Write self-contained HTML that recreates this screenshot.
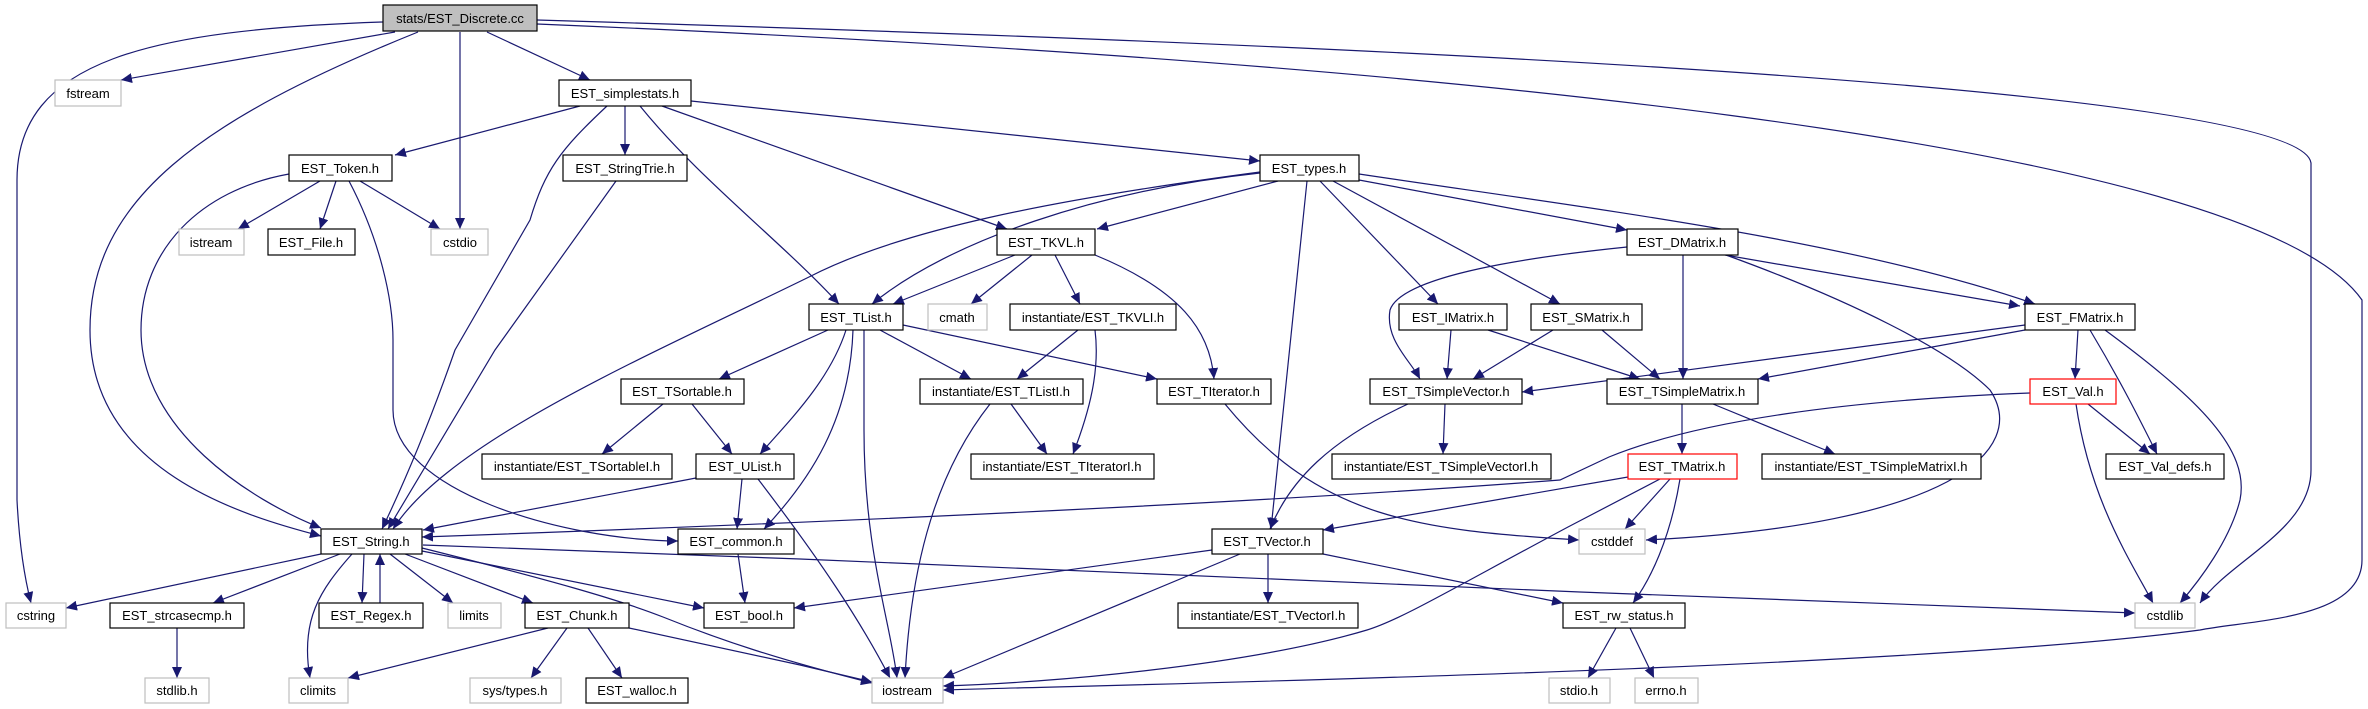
<!DOCTYPE html>
<html><head><meta charset="utf-8"><style>
html,body{margin:0;padding:0;background:#fff;}
svg{display:block;}
text{font-family:"Liberation Sans",Arial,sans-serif;font-size:13px;text-anchor:middle;fill:#000;}
.e{fill:none;stroke:#191970;stroke-width:1.2;marker-end:url(#a);}
.n{fill:#fff;stroke:#000;stroke-width:1.2;}
.g{fill:#fff;stroke:#bfbfbf;stroke-width:1.2;}
.r{fill:#fff;stroke:#ff0000;stroke-width:1.2;}
</style></head><body>
<svg width="2368" height="709" viewBox="0 0 2368 709" xmlns="http://www.w3.org/2000/svg">
<defs><marker id="a" markerUnits="userSpaceOnUse" markerWidth="12" markerHeight="10" refX="11" refY="5" orient="auto"><path d="M0,0 L11,5 L0,10 z" fill="#191970"/></marker></defs>
<!-- edges -->
<path class="e" d="M395,32 L121,80"/>
<path class="e" d="M487,32 L590,80"/>
<path class="e" d="M460,32 L460,229"/>
<path class="e" d="M418,32 C200,120 90,200 90,330 C90,470 240,515 321,536"/>
<path class="e" d="M383,22 C150,30 17,60 17,180 L17,500 Q20,560 31,603"/>
<path class="e" d="M537,20 C1200,40 2300,80 2311,163 L2311,470 C2311,530 2230,560 2200,603"/>
<path class="e" d="M537,24 C1400,60 2250,140 2362,300 L2362,560 C2362,620 2250,620 2200,630 C1900,670 1100,685 943,690"/>
<path class="e" d="M580,106 L395,155"/>
<path class="e" d="M625,106 L625,155"/>
<path class="e" d="M607,106 C560,150 545,170 530,220 L455,350 Q420,450 382,529"/>
<path class="e" d="M640,106 C700,180 780,240 839,304"/>
<path class="e" d="M662,106 L1007,229"/>
<path class="e" d="M691,101 L1260,161"/>
<path class="e" d="M320,181 L238,229"/>
<path class="e" d="M336,181 L320,229"/>
<path class="e" d="M360,181 L440,229"/>
<path class="e" d="M289,174 C200,190 141,250 141,330 C141,430 250,500 321,528"/>
<path class="e" d="M349,181 C380,240 393,300 393,340 L393,410 C393,490 560,540 678,541"/>
<path class="e" d="M616,181 L495,350 L388,529"/>
<path class="e" d="M1278,181 L1097,229"/>
<path class="e" d="M1260,172 C1050,200 900,230 809,277 C650,355 450,440 393,529"/>
<path class="e" d="M1260,173 C1100,190 950,240 872,304"/>
<path class="e" d="M1307,181 L1271,529"/>
<path class="e" d="M1320,181 L1438,304"/>
<path class="e" d="M1333,181 L1560,304"/>
<path class="e" d="M1359,180 L1627,230"/>
<path class="e" d="M1359,174 C1600,210 1850,240 2035,304"/>
<path class="e" d="M1015,255 L893,304"/>
<path class="e" d="M1032,255 L971,304"/>
<path class="e" d="M1055,255 L1080,304"/>
<path class="e" d="M1095,255 C1180,290 1210,330 1214,379"/>
<path class="e" d="M1095,330 C1100,370 1090,410 1073,454"/>
<path class="e" d="M1078,330 L1017,379"/>
<path class="e" d="M828,330 L719,379"/>
<path class="e" d="M846,330 C830,380 790,420 760,454"/>
<path class="e" d="M853,330 C850,420 810,480 764,529"/>
<path class="e" d="M864,330 L864,430 C864,550 890,620 897,678"/>
<path class="e" d="M880,330 L971,379"/>
<path class="e" d="M903,325 L1157,379"/>
<path class="e" d="M663,404 L602,454"/>
<path class="e" d="M692,404 L732,454"/>
<path class="e" d="M696,478 L423,530"/>
<path class="e" d="M742,479 L737,529"/>
<path class="e" d="M758,479 C820,560 860,620 890,678"/>
<path class="e" d="M1011,404 L1047,454"/>
<path class="e" d="M990,404 C930,480 910,580 905,678"/>
<path class="e" d="M1225,404 C1320,520 1420,530 1579,540"/>
<path class="e" d="M1445,404 L1443,454"/>
<path class="e" d="M1408,404 C1330,440 1290,480 1270,529"/>
<path class="e" d="M1451,330 L1447,379"/>
<path class="e" d="M1488,330 L1640,379"/>
<path class="e" d="M1553,330 L1473,379"/>
<path class="e" d="M1602,330 L1660,379"/>
<path class="e" d="M1627,247 C1500,260 1400,280 1390,310 C1385,340 1410,360 1420,379"/>
<path class="e" d="M1683,255 L1683,379"/>
<path class="e" d="M1725,255 L2020,306"/>
<path class="e" d="M1726,255 C1850,300 1950,350 1990,390 C2030,450 1950,525 1646,540"/>
<path class="e" d="M2025,325 L1522,392"/>
<path class="e" d="M2025,330 L1758,379"/>
<path class="e" d="M2078,330 L2075,379"/>
<path class="e" d="M2090,330 C2120,380 2140,420 2157,454"/>
<path class="e" d="M2105,330 C2200,400 2250,450 2240,500 C2230,540 2200,580 2180,603"/>
<path class="e" d="M1628,477 L1323,530"/>
<path class="e" d="M1670,479 L1625,529"/>
<path class="e" d="M1680,479 C1670,540 1650,580 1633,603"/>
<path class="e" d="M1660,479 L1568,527 C1450,590 1400,620 1367,630 C1250,665 1050,683 943,686"/>
<path class="e" d="M1682,404 L1682,454"/>
<path class="e" d="M1713,404 L1835,454"/>
<path class="e" d="M2088,404 L2150,454"/>
<path class="e" d="M2076,404 C2090,500 2130,560 2153,603"/>
<path class="e" d="M2030,393 C1850,400 1700,420 1609,457 L1560,480 C1300,500 900,520 422,537"/>
<path class="e" d="M321,554 L66,608"/>
<path class="e" d="M340,554 L213,603"/>
<path class="e" d="M364,554 L362,603"/>
<path class="e" d="M380,603 L380,554"/>
<path class="e" d="M390,554 L453,603"/>
<path class="e" d="M352,554 C320,590 300,620 310,678"/>
<path class="e" d="M405,554 L533,603"/>
<path class="e" d="M422,551 L704,608"/>
<path class="e" d="M422,548 C550,580 620,600 663,617 C720,640 780,660 872,683"/>
<path class="e" d="M423,545 L800,559 Q1200,575 1580,592 L2135,613"/>
<path class="e" d="M738,554 L745,603"/>
<path class="e" d="M548,628 L348,678"/>
<path class="e" d="M567,628 L531,678"/>
<path class="e" d="M588,628 L622,678"/>
<path class="e" d="M629,628 L800,665 L872,682"/>
<path class="e" d="M177,628 L177,678"/>
<path class="e" d="M1212,550 L794,608"/>
<path class="e" d="M1240,554 L943,678"/>
<path class="e" d="M1268,554 L1268,603"/>
<path class="e" d="M1323,554 L1563,603"/>
<path class="e" d="M1616,628 L1588,678"/>
<path class="e" d="M1630,628 L1654,678"/>
<!-- nodes -->
<rect x="383" y="5" width="154" height="26" fill="#bfbfbf" stroke="#000" stroke-width="1.2"/><text x="460" y="23">stats/EST_Discrete.cc</text>
<rect class="g" x="55" y="80" width="66" height="26"/><text x="88" y="98">fstream</text>
<rect class="n" x="559" y="80" width="132" height="26"/><text x="625" y="98">EST_simplestats.h</text>
<rect class="n" x="289" y="155" width="103" height="26"/><text x="340" y="173">EST_Token.h</text>
<rect class="n" x="563" y="155" width="124" height="26"/><text x="625" y="173">EST_StringTrie.h</text>
<rect class="n" x="1260" y="155" width="99" height="26"/><text x="1309" y="173">EST_types.h</text>
<rect class="g" x="179" y="229" width="65" height="26"/><text x="211" y="247">istream</text>
<rect class="n" x="268" y="229" width="87" height="26"/><text x="311" y="247">EST_File.h</text>
<rect class="g" x="431" y="229" width="57" height="26"/><text x="460" y="247">cstdio</text>
<rect class="n" x="997" y="229" width="98" height="26"/><text x="1046" y="247">EST_TKVL.h</text>
<rect class="n" x="1627" y="229" width="111" height="26"/><text x="1682" y="247">EST_DMatrix.h</text>
<rect class="n" x="809" y="304" width="94" height="26"/><text x="856" y="322">EST_TList.h</text>
<rect class="g" x="928" y="304" width="59" height="26"/><text x="957" y="322">cmath</text>
<rect class="n" x="1010" y="304" width="166" height="26"/><text x="1093" y="322">instantiate/EST_TKVLI.h</text>
<rect class="n" x="1399" y="304" width="108" height="26"/><text x="1453" y="322">EST_IMatrix.h</text>
<rect class="n" x="1531" y="304" width="111" height="26"/><text x="1586" y="322">EST_SMatrix.h</text>
<rect class="n" x="2025" y="304" width="110" height="26"/><text x="2080" y="322">EST_FMatrix.h</text>
<rect class="n" x="621" y="379" width="123" height="25"/><text x="682" y="396">EST_TSortable.h</text>
<rect class="n" x="920" y="379" width="163" height="25"/><text x="1001" y="396">instantiate/EST_TListI.h</text>
<rect class="n" x="1157" y="379" width="114" height="25"/><text x="1214" y="396">EST_TIterator.h</text>
<rect class="n" x="1370" y="379" width="152" height="25"/><text x="1446" y="396">EST_TSimpleVector.h</text>
<rect class="n" x="1607" y="379" width="151" height="25"/><text x="1682" y="396">EST_TSimpleMatrix.h</text>
<rect class="r" x="2030" y="379" width="86" height="25"/><text x="2073" y="396">EST_Val.h</text>
<rect class="n" x="482" y="454" width="190" height="25"/><text x="577" y="471">instantiate/EST_TSortableI.h</text>
<rect class="n" x="696" y="454" width="98" height="25"/><text x="745" y="471">EST_UList.h</text>
<rect class="n" x="971" y="454" width="183" height="25"/><text x="1062" y="471">instantiate/EST_TIteratorI.h</text>
<rect class="n" x="1332" y="454" width="219" height="25"/><text x="1441" y="471">instantiate/EST_TSimpleVectorI.h</text>
<rect class="r" x="1628" y="454" width="109" height="25"/><text x="1682" y="471">EST_TMatrix.h</text>
<rect class="n" x="1762" y="454" width="219" height="25"/><text x="1871" y="471">instantiate/EST_TSimpleMatrixI.h</text>
<rect class="n" x="2106" y="454" width="118" height="25"/><text x="2165" y="471">EST_Val_defs.h</text>
<rect class="n" x="321" y="529" width="101" height="25"/><text x="371" y="546">EST_String.h</text>
<rect class="n" x="678" y="529" width="116" height="25"/><text x="736" y="546">EST_common.h</text>
<rect class="n" x="1212" y="529" width="111" height="25"/><text x="1267" y="546">EST_TVector.h</text>
<rect class="g" x="1579" y="529" width="66" height="25"/><text x="1612" y="546">cstddef</text>
<rect class="g" x="6" y="603" width="60" height="25"/><text x="36" y="620">cstring</text>
<rect class="n" x="110" y="603" width="134" height="25"/><text x="177" y="620">EST_strcasecmp.h</text>
<rect class="n" x="319" y="603" width="104" height="25"/><text x="371" y="620">EST_Regex.h</text>
<rect class="g" x="448" y="603" width="53" height="25"/><text x="474" y="620">limits</text>
<rect class="n" x="525" y="603" width="104" height="25"/><text x="577" y="620">EST_Chunk.h</text>
<rect class="n" x="704" y="603" width="90" height="25"/><text x="749" y="620">EST_bool.h</text>
<rect class="n" x="1178" y="603" width="180" height="25"/><text x="1268" y="620">instantiate/EST_TVectorI.h</text>
<rect class="n" x="1563" y="603" width="122" height="25"/><text x="1624" y="620">EST_rw_status.h</text>
<rect class="g" x="2135" y="603" width="60" height="25"/><text x="2165" y="620">cstdlib</text>
<rect class="g" x="145" y="678" width="64" height="25"/><text x="177" y="695">stdlib.h</text>
<rect class="g" x="289" y="678" width="59" height="25"/><text x="318" y="695">climits</text>
<rect class="g" x="470" y="678" width="91" height="25"/><text x="515" y="695">sys/types.h</text>
<rect class="n" x="586" y="678" width="102" height="25"/><text x="637" y="695">EST_walloc.h</text>
<rect class="g" x="872" y="678" width="71" height="25"/><text x="907" y="695">iostream</text>
<rect class="g" x="1549" y="678" width="61" height="25"/><text x="1579" y="695">stdio.h</text>
<rect class="g" x="1635" y="678" width="63" height="25"/><text x="1666" y="695">errno.h</text>
</svg>
</body></html>
